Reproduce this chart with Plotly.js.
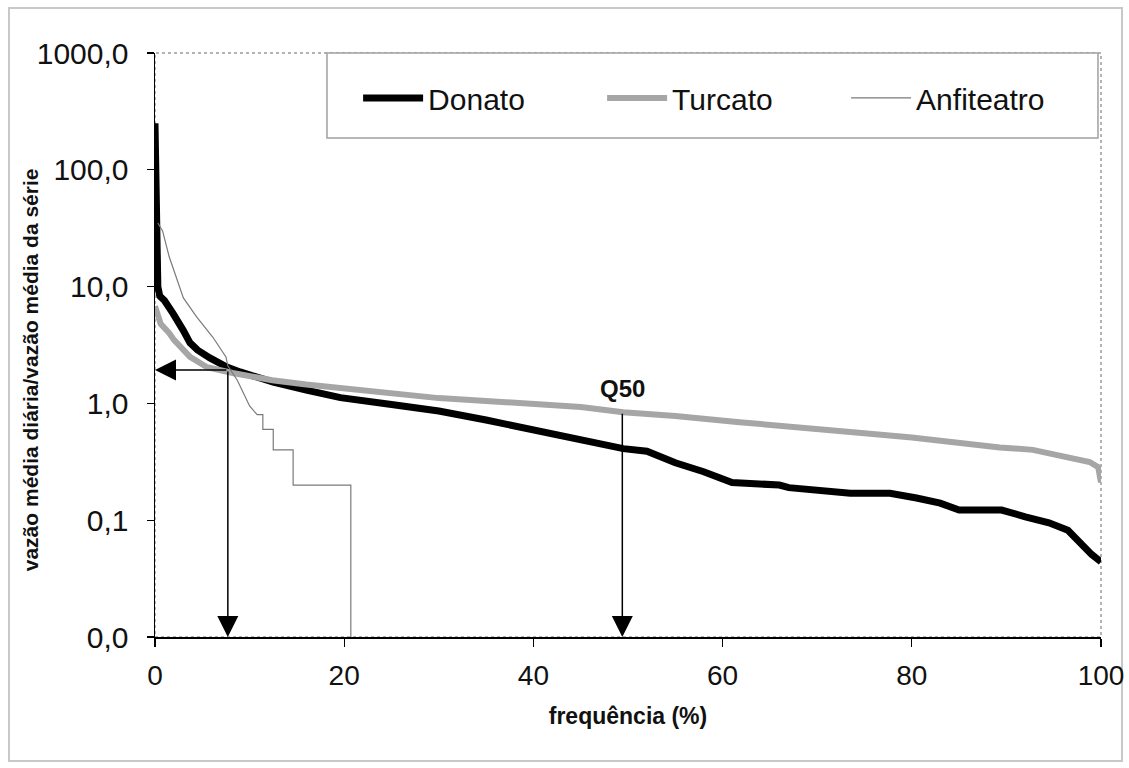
<!DOCTYPE html>
<html>
<head>
<meta charset="utf-8">
<script src="https://cdn.plot.ly/plotly-3.0.1.min.js"></script>
<style>
  html, body { margin: 0; padding: 0; background: #ffffff; overflow: hidden; }
  #frame { position: absolute; left: 8px; top: 7px; width: 1111px; height: 751px; border: 2px solid #c8c8c8; }
  #chart { position: absolute; left: 0; top: 0; width: 1129px; height: 768px; }
</style>
</head>
<body>
<div id="frame"></div>
<div id="chart"></div>
<script>
// Frequency (%) and flow ratio (daily mean flow / series mean flow)
const donatoX = [0, 0.15, 0.3, 0.5, 1.0, 1.9, 2.6, 3.0, 3.7, 4.5, 5.8, 7.6, 9.0, 12.5, 16.0, 19.6, 25.0, 30.0, 35.0, 40.0, 45.0, 49.5, 52.0, 55.0, 58.0, 61.0, 66.0, 67.0, 73.5, 77.7, 80.5, 83.0, 85.0, 89.5, 92.0, 94.5, 96.5, 98.0, 99.0, 100.0];
const donatoY = [250, 30, 10, 8.3, 7.6, 5.9, 4.9, 4.2, 3.3, 2.86, 2.45, 2.05, 1.86, 1.52, 1.30, 1.12, 0.98, 0.86, 0.72, 0.59, 0.49, 0.41, 0.39, 0.31, 0.26, 0.21, 0.20, 0.19, 0.17, 0.17, 0.155, 0.14, 0.122, 0.122, 0.107, 0.095, 0.082, 0.060, 0.051, 0.044];

const turcatoX = [0, 0.3, 0.6, 1.5, 2.0, 3.7, 5.5, 8.2, 12.4, 16.0, 20.0, 25.0, 30.0, 35.0, 40.7, 45.0, 49.5, 55.0, 61.8, 67.0, 73.5, 80.0, 84.0, 89.3, 92.8, 96.4, 98.8, 99.7, 100.0];
const turcatoY = [6.8, 5.5, 4.8, 4.0, 3.5, 2.5, 2.04, 1.82, 1.58, 1.45, 1.35, 1.22, 1.11, 1.05, 0.99, 0.93, 0.84, 0.78, 0.69, 0.64, 0.57, 0.51, 0.465, 0.42, 0.40, 0.35, 0.315, 0.285, 0.21];

const anfiteatroX = [0.3, 0.8, 1.5, 2.3, 3.0, 4.4, 6.1, 7.5, 7.7, 8.7, 9.3, 10.0, 10.8, 11.4, 11.4, 12.5, 12.5, 14.6, 14.6, 20.7, 20.7];
const anfiteatroY = [35, 30, 18, 11.4, 8.0, 5.5, 3.7, 2.5, 2.1, 1.58, 1.23, 0.95, 0.8, 0.8, 0.6, 0.6, 0.4, 0.4, 0.2, 0.2, 0.01];

const seriesNames = ['Donato', 'Turcato', 'Anfiteatro'];
const yTickVals = [0.01, 0.1, 1, 10, 100, 1000];
const yTickText = ['0,0', '0,1', '1,0', '10,0', '100,0', '1000,0'];
const xTickVals = [0, 20, 40, 60, 80, 100];

// Reference markers: exceedance arrow and Q50
const refFreq = 7.7;      // % where the horizontal arrow level meets the curves
const refLevel = 1.93;    // flow ratio of the horizontal arrow
const q50Freq = 49.4;     // % of Q50 arrow
const q50Level = 0.84;    // Turcato value at Q50

const FONT = 'Liberation Sans, Arial, Helvetica, sans-serif';

const traces = [
  { x: donatoX, y: donatoY, name: seriesNames[0], mode: 'lines',
    line: { color: '#000000', width: 7 } },
  { x: turcatoX, y: turcatoY, name: seriesNames[1], mode: 'lines',
    line: { color: '#a6a6a6', width: 6 } },
  { x: anfiteatroX, y: anfiteatroY, name: seriesNames[2], mode: 'lines',
    line: { color: '#7a7a7a', width: 1.2 } }
];

const L = Math.log10;
const arrowCommon = { xref: 'x', yref: 'y', axref: 'x', ayref: 'y', text: '',
  showarrow: true, arrowhead: 2, arrowsize: 2.8, arrowwidth: 1.5, arrowcolor: '#000000' };

const layout = {
  width: 1129, height: 768,
  margin: { l: 155, r: 28, t: 53, b: 131, autoexpand: false },
  paper_bgcolor: 'rgba(0,0,0,0)',
  plot_bgcolor: '#ffffff',
  font: { family: FONT, color: '#111111' },
  showlegend: true,
  legend: {
    orientation: 'h', traceorder: 'normal',
    x: 0.2147, xanchor: 'left', y: 0.923, yanchor: 'middle',
    bgcolor: 'rgba(0,0,0,0)', borderwidth: 0,
    font: { family: FONT, size: 30, color: '#111111' },
    itemwidth: 60, entrywidth: 169, entrywidthmode: 'pixels'
  },
  xaxis: {
    type: 'linear', range: [0, 100], tickvals: xTickVals, ticktext: xTickVals.map(String),
    ticks: 'outside', ticklen: 8, tickwidth: 1.2, tickcolor: '#000000',
    showline: true, linecolor: '#000000', linewidth: 1.5,
    showgrid: false, zeroline: false, automargin: false,
    tickfont: { family: FONT, size: 28, color: '#111111' },
    ticklabelstandoff: 5,
    title: { text: 'frequência (%)', standoff: 18,
      font: { family: FONT, size: 23, weight: 'bold', color: '#111111' } }
  },
  yaxis: {
    type: 'log', range: [-2, 3], tickvals: yTickVals, ticktext: yTickText,
    ticks: 'outside', ticklen: 7, tickwidth: 1.2, tickcolor: '#000000',
    showline: true, linecolor: '#000000', linewidth: 1.5,
    showgrid: false, zeroline: false, automargin: false,
    tickfont: { family: FONT, size: 30, color: '#111111' },
    ticklabelstandoff: 12
  },
  shapes: [
    { type: 'rect', xref: 'paper', yref: 'paper', x0: 0, x1: 1, y0: 0, y1: 1,
      line: { color: '#9a9a9a', width: 1.5, dash: 'dot' }, layer: 'below' },
    { type: 'rect', xref: 'paper', yref: 'paper', x0: 0.1818, x1: 0.9968, y0: 0.8545, y1: 1.0,
      line: { color: '#a0a0a0', width: 1.5 }, fillcolor: '#ffffff', layer: 'below' }
  ],
  annotations: [
    Object.assign({}, arrowCommon, { x: 0, y: L(refLevel), ax: refFreq, ay: L(refLevel) }),
    Object.assign({}, arrowCommon, { x: refFreq, y: -2, ax: refFreq, ay: L(refLevel) }),
    Object.assign({}, arrowCommon, { x: q50Freq, y: -2, ax: q50Freq, ay: L(q50Level) }),
    { xref: 'x', yref: 'y', x: q50Freq, y: L(q50Level), text: 'Q50', showarrow: false,
      xanchor: 'center', yanchor: 'bottom', yshift: 8,
      font: { family: FONT, size: 24, weight: 'bold', color: '#111111' } },
    { xref: 'paper', yref: 'paper', x: -0.132, y: 0.457, text: 'vazão média diária/vazão média da série',
      textangle: -90, showarrow: false, xanchor: 'center', yanchor: 'middle',
      font: { family: FONT, size: 21, weight: 'bold', color: '#111111' } }
  ]
};

Plotly.newPlot('chart', traces, layout, { displayModeBar: false, staticPlot: true });
</script>
</body>
</html>
